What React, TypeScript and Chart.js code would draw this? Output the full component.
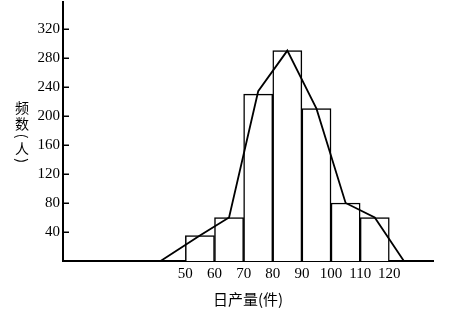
import { useEffect, useRef } from 'react';
import { Chart, registerables } from 'chart.js';

Chart.register(...registerables);

const binMids = [55, 65, 75, 85, 95, 105, 115];
const frequencies = [35, 60, 230, 290, 210, 80, 60];
const polygonX = [41.5, 55, 65, 75, 85, 95, 105, 115, 125];
const polygonY = [0, 35, 60, 234, 290, 210, 80, 60, 0];
const xTicks = [50, 60, 70, 80, 90, 100, 110, 120];
const yTicks = [40, 80, 120, 160, 200, 240, 280, 320];
const xTitle = '日产量(件)';
const yTitleChars = ['频', '数', '(', '人', ')'];

const SERIF = '"Liberation Serif", "DejaVu Serif", serif';
const CJK = '"Noto Sans CJK SC", sans-serif';

const axisExtrasPlugin = {
  id: 'axisExtras',
  afterDraw(chart: any) {
    const ctx = chart.ctx as CanvasRenderingContext2D;
    const area = chart.chartArea;
    const yScale = chart.scales.y;
    ctx.save();
    // inward tick marks on the y axis
    ctx.strokeStyle = '#000';
    ctx.lineWidth = 1.5;
    yTicks.forEach((v) => {
      const py = Math.round(yScale.getPixelForValue(v)) + 0.25;
      ctx.beginPath();
      ctx.moveTo(area.left, py);
      ctx.lineTo(area.left + 6, py);
      ctx.stroke();
    });
    // vertical y-axis title
    const mid = (area.top + area.bottom) / 2;
    const offsets = [-24, -8, 4.5, 17.5, 29];
    const cx = 22;
    ctx.fillStyle = '#000';
    ctx.textAlign = 'center';
    ctx.textBaseline = 'middle';
    ctx.font = '14px ' + CJK;
    yTitleChars.forEach((ch, i) => {
      const y = mid + offsets[i];
      if (ch === '(' || ch === ')') {
        ctx.save();
        ctx.translate(cx, y);
        ctx.rotate(Math.PI / 2);
        ctx.fillText(ch, 0, 0);
        ctx.restore();
      } else {
        ctx.fillText(ch, cx, y);
      }
    });
    ctx.restore();
  },
};

export default function App() {
  const ref = useRef<HTMLCanvasElement | null>(null);

  useEffect(() => {
    if (!ref.current) return;
    const chart = new Chart(ref.current, {
      type: 'bar',
      data: {
        datasets: [
          {
            type: 'line',
            data: polygonX.map((x, i) => ({ x, y: polygonY[i] })),
            borderColor: '#000',
            borderWidth: 1.8,
            pointRadius: 0,
            fill: false,
            tension: 0,
            order: 0,
          } as any,
          {
            type: 'bar',
            data: binMids.map((x, i) => ({ x, y: frequencies[i] })),
            backgroundColor: '#fff',
            borderColor: '#000',
            borderWidth: 1.5,
            barPercentage: 1,
            categoryPercentage: 1,
            order: 1,
          } as any,
        ],
      },
      options: {
        animation: false,
        responsive: false,
        devicePixelRatio: 1,
        layout: { padding: { top: 2, right: 17, left: 0, bottom: 0 } },
        plugins: {
          legend: { display: false },
          tooltip: { enabled: false },
          title: { display: false },
        },
        scales: {
          x: {
            type: 'linear',
            min: 8,
            max: 135,
            offset: false,
            afterBuildTicks: (scale: any) => {
              scale.ticks = xTicks.map((v) => ({ value: v }));
            },
            afterFit: (scale: any) => {
              scale.height = 50;
              scale.paddingLeft = 0;
              scale.paddingRight = 0;
            },
            grid: { display: false, drawTicks: false, tickLength: 0 },
            border: { display: true, color: '#000', width: 2 },
            ticks: {
              autoSkip: false,
              maxRotation: 0,
              padding: 4,
              color: '#000',
              font: { family: SERIF, size: 15 },
              callback: (v: any) => String(v),
            },
            title: {
              display: true,
              text: xTitle,
              color: '#000',
              font: { family: CJK, size: 15 },
              padding: { top: 0, bottom: 3 },
            },
          },
          y: {
            type: 'linear',
            min: 0,
            max: 357,
            afterBuildTicks: (scale: any) => {
              scale.ticks = yTicks.map((v) => ({ value: v }));
            },
            afterFit: (scale: any) => {
              scale.width = 63;
              scale.paddingTop = 0;
              scale.paddingBottom = 0;
            },
            grid: { display: false, drawTicks: false, tickLength: 0 },
            border: { display: true, color: '#000', width: 2 },
            ticks: {
              padding: 3,
              color: '#000',
              font: { family: SERIF, size: 15 },
              callback: (v: any) => String(v),
            },
          },
        },
      },
      plugins: [axisExtrasPlugin],
    } as any);
    return () => chart.destroy();
  }, []);

  return (
    <div style={{ position: 'fixed', left: 0, top: 0, width: 450, height: 311, background: '#fff' }}>
      <canvas ref={ref} width={450} height={311} style={{ display: 'block' }} />
    </div>
  );
}
